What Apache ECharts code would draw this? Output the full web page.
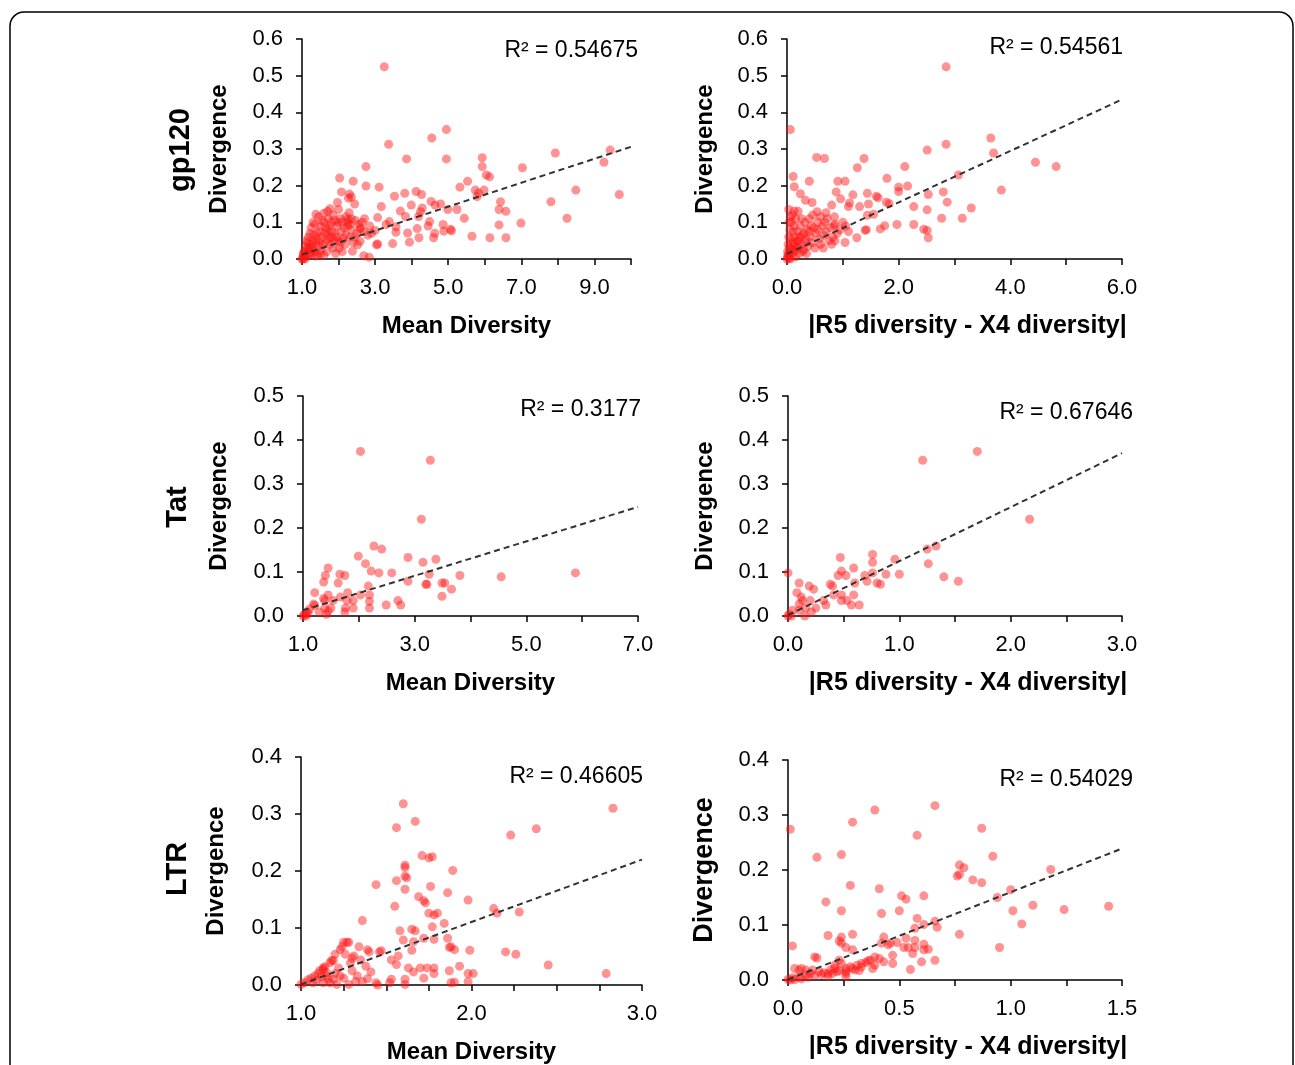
<!DOCTYPE html>
<html>
<head>
<meta charset="utf-8">
<script src="https://cdn.jsdelivr.net/npm/echarts@6/dist/echarts.min.js"></script>
<style>
  html, body { margin: 0; padding: 0; background: #fff; }
  #chart { width: 1295px; height: 1065px; }
</style>
</head>
<body>
<div id="chart"></div>
<script>
// Data: [x, y] points
const gp120Mean = [
  [3.25,0.524],[4.95,0.353],[4.55,0.330],[3.37,0.313],[3.86,0.273],[4.95,0.273],[5.93,0.276],[5.93,0.252],
  [7.93,0.289],[9.43,0.297],[9.26,0.264],[7.03,0.249],[2.75,0.252],[2.03,0.221],[2.40,0.212],[2.75,0.199],
  [3.11,0.196],[6.04,0.229],[6.13,0.224],[5.53,0.212],[5.32,0.196],[5.74,0.188],[5.98,0.188],[5.83,0.180],
  [5.79,0.170],[8.49,0.188],[9.68,0.176],[7.81,0.156],[8.25,0.111],[6.99,0.098],[6.58,0.058],[6.14,0.058],
  [5.65,0.062],[6.39,0.093],[6.43,0.156],[6.39,0.135],[6.58,0.130],[5.24,0.135],[4.99,0.135],[5.44,0.111],
  [5.06,0.081],[5.09,0.077],[4.86,0.094],[4.88,0.076],[4.63,0.070],[4.60,0.058],[4.45,0.090],[4.15,0.083],
  [4.20,0.058],[3.94,0.046],[3.89,0.071],[4.53,0.157],[4.79,0.150],[4.64,0.147],[4.29,0.139],[4.24,0.129],
  [4.19,0.116],[4.49,0.102],[4.12,0.184],[4.27,0.176],[3.81,0.179],[3.53,0.171],[3.99,0.147],[3.83,0.116],
  [3.69,0.131],[3.57,0.088],[3.57,0.073],[3.48,0.042],[3.17,0.143],[3.07,0.113],[3.39,0.102],[3.30,0.094],
  [3.07,0.041],[3.04,0.039],[3.00,0.078],[2.85,0.090],[2.84,0.005],[2.69,0.009],[2.71,0.110],[2.59,0.081],
  [2.30,0.177],[2.35,0.169],[2.44,0.150],[2.27,0.166],[2.08,0.183],[1.97,0.154],[1.77,0.137],[1.38,0.122],
  [2.29,0.126],[2.26,0.108],[2.46,0.105],[2.31,0.094],[2.52,0.039],[2.38,0.021],[2.59,0.048],
  [1.05,0.005],[1.10,0.010],[1.12,0.020],[1.15,0.030],[1.20,0.015],[1.25,0.040],[1.30,0.050],[1.18,0.060],
  [1.35,0.020],[1.40,0.070],[1.45,0.035],[1.50,0.090],[1.55,0.060],[1.60,0.100],[1.65,0.045],[1.70,0.080],
  [1.75,0.055],[1.80,0.100],[1.85,0.030],[1.90,0.070],[1.95,0.090],[2.00,0.050],[2.05,0.110],[2.10,0.020],
  [2.15,0.085],[2.20,0.065],[1.30,0.100],[1.45,0.115],[1.60,0.125],[1.70,0.130],[1.85,0.120],[2.00,0.135],
  [2.10,0.100],[1.02,0.000],[1.03,0.010],[1.08,0.000],[1.06,0.020],[1.10,0.035],[1.15,0.045],[1.22,0.070],
  [1.28,0.025],[1.32,0.065],[1.38,0.045],[1.42,0.010],[1.48,0.075],[1.52,0.025],[1.58,0.040],[1.62,0.070],
  [1.68,0.020],[1.72,0.110],[1.78,0.040],[1.82,0.075],[1.88,0.050],[1.92,0.015],[1.98,0.100],[2.02,0.030],
  [2.08,0.075],[2.12,0.055],[2.18,0.040],[2.25,0.090],[2.30,0.060],[2.35,0.080],[2.40,0.045],[2.45,0.060],
  [2.50,0.070],[2.55,0.095],[2.60,0.085],[2.65,0.100],[2.70,0.075],[2.80,0.065],[2.90,0.070],[1.25,0.085],
  [1.35,0.095],[1.55,0.105],[1.75,0.090],[1.95,0.060],[2.05,0.045],[1.40,0.055],[1.50,0.050],[1.65,0.085],
  [1.80,0.060],[1.90,0.105],[2.20,0.115],[2.25,0.100],[2.35,0.110],[1.12,0.050],[1.20,0.030],[1.30,0.035],
  [1.70,0.065],[1.50,0.015],[1.60,0.010],[1.00,0.000],[1.04,0.015],[1.14,0.008],[1.24,0.012],[1.36,0.008]
];
const gp120Diff = [
  [2.85,0.524],[0.06,0.353],[2.85,0.313],[2.51,0.297],[3.65,0.330],[3.70,0.289],[0.53,0.277],[0.67,0.274],
  [1.38,0.274],[1.26,0.249],[2.11,0.252],[4.45,0.264],[4.82,0.252],[0.11,0.225],[0.40,0.212],[0.91,0.212],
  [1.04,0.212],[1.79,0.220],[2.00,0.196],[2.16,0.199],[2.00,0.184],[3.07,0.229],[3.84,0.188],[2.80,0.183],
  [2.53,0.176],[2.87,0.155],[2.27,0.143],[2.51,0.134],[3.30,0.139],[3.14,0.111],[2.77,0.111],[2.27,0.094],
  [1.97,0.094],[2.45,0.081],[2.53,0.058],[2.51,0.078],[1.60,0.171],[1.63,0.167],[1.44,0.179],[1.18,0.175],
  [1.10,0.143],[0.88,0.183],[0.96,0.164],[1.12,0.153],[1.30,0.143],[1.46,0.150],[1.78,0.155],[1.83,0.151],
  [0.80,0.147],[0.70,0.126],[1.55,0.122],[1.44,0.119],[1.75,0.091],[1.67,0.082],[1.42,0.080],[1.40,0.078],
  [1.25,0.058],[1.04,0.045],[0.86,0.050],[0.84,0.091],[0.13,0.197],[0.24,0.178],[0.03,0.135],[0.13,0.131],
  [0.33,0.160],[0.45,0.154],[0.54,0.129],
  [0.00,0.000],[0.02,0.005],[0.03,0.015],[0.05,0.000],[0.06,0.030],[0.08,0.010],[0.10,0.045],[0.12,0.020],
  [0.14,0.060],[0.15,0.005],[0.17,0.035],[0.19,0.075],[0.20,0.050],[0.22,0.015],[0.24,0.090],[0.25,0.040],
  [0.27,0.065],[0.30,0.025],[0.32,0.100],[0.34,0.055],[0.36,0.080],[0.38,0.035],[0.40,0.110],[0.42,0.060],
  [0.45,0.045],[0.48,0.085],[0.50,0.030],[0.52,0.070],[0.55,0.100],[0.58,0.055],[0.60,0.040],[0.63,0.090],
  [0.66,0.065],[0.70,0.075],[0.72,0.110],[0.75,0.050],[0.78,0.085],[0.82,0.060],[0.86,0.095],[0.90,0.070],
  [0.95,0.080],[1.00,0.100],[1.05,0.090],[1.10,0.075],[0.05,0.080],[0.08,0.100],[0.10,0.120],[0.13,0.090],
  [0.03,0.060],[0.02,0.040],[0.07,0.055],[0.11,0.075],[0.16,0.110],[0.20,0.130],[0.26,0.110],[0.28,0.020],
  [0.35,0.015],[0.15,0.025],[0.09,0.025],[0.18,0.050],[0.23,0.060],[0.30,0.070],[0.43,0.090],[0.46,0.120],
  [0.60,0.115],[0.68,0.100],[0.85,0.115],[0.04,0.100],[0.06,0.115],[0.01,0.020],[0.04,0.030],[0.12,0.040],
  [0.21,0.030],[0.33,0.045],[0.40,0.075],[0.55,0.080],[0.65,0.030],[0.80,0.040],[0.01,0.008],[0.04,0.002]
];
const tatMean = [
  [2.03,0.374],[3.28,0.354],[3.12,0.220],[2.27,0.159],[2.41,0.152],[1.99,0.136],[2.88,0.133],[3.38,0.129],
  [2.12,0.119],[3.15,0.122],[1.45,0.109],[2.22,0.102],[2.36,0.098],[2.59,0.098],[3.26,0.095],[3.81,0.092],
  [4.55,0.089],[5.88,0.098],[1.66,0.095],[1.75,0.092],[1.40,0.092],[1.37,0.077],[1.63,0.075],[2.88,0.079],
  [3.20,0.072],[3.22,0.072],[3.49,0.075],[3.54,0.075],[3.66,0.061],[3.49,0.045],[2.17,0.068],[2.19,0.048],
  [2.03,0.048],[1.80,0.053],[1.79,0.035],[1.90,0.035],[1.90,0.018],[2.19,0.033],[2.19,0.018],[2.49,0.025],
  [2.70,0.035],[2.75,0.025],[1.76,0.018],[1.75,0.009],[1.21,0.053],[1.45,0.048],[1.37,0.040],[1.39,0.035],
  [1.54,0.035],[1.67,0.043],[1.39,0.018],[1.45,0.011],[1.42,0.004],[1.50,0.018],[1.19,0.027],[1.29,0.009],
  [1.12,0.016],[1.07,0.009],[1.03,0.004],[1.00,0.000],[1.05,0.000],[1.09,0.005],[1.21,0.024]
];
const tatDiff = [
  [1.70,0.374],[1.21,0.354],[2.17,0.220],[1.33,0.159],[1.25,0.152],[1.26,0.119],[1.40,0.089],[1.53,0.079],
  [0.47,0.133],[0.76,0.140],[0.76,0.122],[0.96,0.129],[0.59,0.109],[0.48,0.102],[0.45,0.092],[0.52,0.092],
  [0.76,0.098],[0.88,0.095],[1.00,0.095],[0.69,0.092],[0.71,0.079],[0.60,0.075],[0.80,0.075],[0.83,0.072],
  [0.38,0.072],[0.40,0.068],[0.59,0.048],[0.48,0.048],[0.48,0.035],[0.53,0.035],[0.57,0.025],[0.64,0.025],
  [0.41,0.048],[0.32,0.035],[0.34,0.025],[0.25,0.018],[0.00,0.098],[0.10,0.075],[0.19,0.068],[0.23,0.061],
  [0.08,0.053],[0.12,0.043],[0.13,0.035],[0.20,0.035],[0.10,0.027],[0.10,0.013],[0.16,0.018],[0.21,0.009],
  [0.15,0.000],[0.04,0.013],[0.01,0.004],[0.00,0.000],[0.03,0.000]
];
const ltrMean = [
  [1.60,0.318],[2.83,0.310],[1.67,0.287],[1.56,0.276],[2.38,0.274],[2.23,0.263],[1.71,0.227],[1.75,0.223],
  [1.77,0.225],[1.61,0.210],[1.61,0.206],[1.89,0.201],[1.61,0.191],[1.62,0.188],[1.44,0.176],[1.56,0.183],
  [1.76,0.173],[1.61,0.168],[1.86,0.162],[1.69,0.155],[1.72,0.148],[1.73,0.144],[1.98,0.149],[1.55,0.138],
  [2.13,0.134],[2.15,0.126],[2.28,0.128],[1.75,0.126],[1.78,0.123],[1.80,0.126],[1.84,0.108],[1.77,0.102],
  [1.36,0.113],[1.58,0.095],[1.65,0.098],[1.67,0.095],[1.60,0.079],[1.66,0.076],[1.72,0.082],[1.78,0.080],
  [1.86,0.082],[1.87,0.066],[1.90,0.062],[1.88,0.067],[1.99,0.061],[2.20,0.058],[2.26,0.054],[2.45,0.035],
  [2.79,0.020],[1.65,0.061],[1.57,0.051],[1.53,0.044],[1.56,0.036],[1.63,0.030],[1.66,0.023],[1.70,0.030],
  [1.74,0.030],[1.78,0.030],[1.78,0.020],[1.72,0.012],[1.87,0.025],[1.93,0.033],[1.88,0.004],[1.90,0.005],
  [1.98,0.020],[2.01,0.020],[1.98,0.006],[1.61,0.010],[1.61,0.001],[1.53,0.010],[1.52,0.004],[1.44,0.004],
  [1.45,0.000],[1.39,0.011],[1.36,0.006],[1.32,0.006],[1.28,0.001],[1.33,0.016],[1.38,0.033],[1.41,0.023],
  [1.40,0.058],[1.39,0.062],[1.46,0.058],[1.47,0.060],[1.34,0.067],[1.35,0.044],[1.30,0.047],[1.29,0.039],
  [1.30,0.025],[1.31,0.051],[1.26,0.054],[1.28,0.075],[1.27,0.075],[1.24,0.067],[1.23,0.062],[1.25,0.075],
  [1.20,0.054],[1.19,0.043],[1.18,0.043],[1.17,0.039],[1.14,0.032],[1.13,0.030],[1.13,0.027],[1.11,0.025],
  [1.10,0.020],[1.08,0.016],[1.06,0.012],[1.04,0.009],[1.02,0.004],[1.00,0.001],[1.23,0.016],[1.25,0.012],
  [1.19,0.010],[1.17,0.004],[1.16,0.010],[1.13,0.004],[1.21,0.001],[1.15,0.016],[1.12,0.014],[1.09,0.008],
  [1.07,0.004],[1.15,0.022],[1.20,0.020],[1.22,0.030]
];
const ltrDiff = [
  [0.66,0.317],[0.39,0.309],[0.29,0.287],[0.01,0.274],[0.87,0.276],[0.58,0.263],[0.92,0.225],[0.13,0.223],
  [0.24,0.228],[0.77,0.209],[0.79,0.204],[0.76,0.189],[0.77,0.192],[0.83,0.182],[0.87,0.177],[1.18,0.201],
  [0.28,0.172],[0.41,0.166],[0.51,0.153],[0.53,0.147],[0.61,0.153],[0.94,0.150],[1.00,0.164],[0.17,0.142],
  [0.24,0.126],[0.42,0.121],[0.50,0.126],[0.58,0.112],[1.10,0.136],[1.24,0.128],[1.44,0.134],[1.01,0.126],
  [1.05,0.102],[0.66,0.107],[0.67,0.096],[0.61,0.101],[0.57,0.094],[0.77,0.083],[0.95,0.059],[0.18,0.081],
  [0.29,0.083],[0.24,0.078],[0.23,0.071],[0.24,0.067],[0.26,0.059],[0.29,0.055],[0.43,0.078],[0.42,0.067],
  [0.46,0.067],[0.49,0.068],[0.45,0.064],[0.53,0.076],[0.57,0.072],[0.61,0.065],[0.63,0.056],[0.61,0.055],
  [0.57,0.059],[0.52,0.059],[0.54,0.059],[0.56,0.048],[0.66,0.036],[0.60,0.033],[0.55,0.019],[0.47,0.045],
  [0.47,0.030],[0.43,0.033],[0.39,0.042],[0.37,0.036],[0.38,0.021],[0.33,0.024],[0.33,0.030],[0.29,0.021],
  [0.30,0.018],[0.26,0.016],[0.24,0.030],[0.23,0.036],[0.21,0.027],[0.19,0.018],[0.26,0.006],[0.21,0.021],
  [0.18,0.012],[0.12,0.042],[0.13,0.040],[0.02,0.062],[0.03,0.021],[0.05,0.018],[0.06,0.021],[0.08,0.018],
  [0.11,0.018],[0.14,0.015],[0.16,0.013],[0.10,0.012],[0.08,0.009],[0.05,0.006],[0.02,0.004],[0.00,0.001],
  [0.01,0.000],[0.03,0.001],[0.06,0.002],[0.09,0.005],[0.12,0.008],[0.15,0.010],[0.18,0.007],[0.20,0.012],
  [0.22,0.015],[0.23,0.017],[0.26,0.021],[0.28,0.024],[0.31,0.027],[0.35,0.032],[0.36,0.035],[0.26,0.012],
  [0.32,0.017],[0.39,0.027],[0.41,0.039]
];

// Trend lines: [start, end]
const gp120MeanTrend = [[1, 0.012], [10, 0.306]];
const gp120DiffTrend = [[0, 0.014], [6, 0.435]];
const tatMeanTrend = [[1, 0.013], [7, 0.248]];
const tatDiffTrend = [[0, 0.002], [3, 0.370]];
const ltrMeanTrend = [[1, 0.001], [3, 0.220]];
const ltrDiffTrend = [[0, 0.001], [1.5, 0.239]];

const rSquared = ['R\u00b2 = 0.54675', 'R\u00b2 = 0.54561', 'R\u00b2 = 0.3177', 'R\u00b2 = 0.67646', 'R\u00b2 = 0.46605', 'R\u00b2 = 0.54029'];
const rowNames = ['gp120', 'Tat', 'LTR'];
const xTitles = ['Mean Diversity', '|R5 diversity - X4 diversity|'];

// Layout of the six panels
const panels = [
  { pts: gp120Mean, trend: gp120MeanTrend, left: 302, top: 39, w: 329, h: 220, xMin: 1, xMax: 10, xStep: 1, xLab: 2, yMax: 0.6, r2: [638, 51], yGap: 71 },
  { pts: gp120Diff, trend: gp120DiffTrend, left: 787, top: 39, w: 335, h: 220, xMin: 0, xMax: 6, xStep: 1, xLab: 2, yMax: 0.6, r2: [1123, 48], yGap: 70 },
  { pts: tatMean, trend: tatMeanTrend, left: 303, top: 396, w: 335, h: 220, xMin: 1, xMax: 7, xStep: 1, xLab: 2, yMax: 0.5, r2: [641, 410], yGap: 72 },
  { pts: tatDiff, trend: tatDiffTrend, left: 788, top: 396, w: 334, h: 220, xMin: 0, xMax: 3, xStep: 0.5, xLab: 1, yMax: 0.5, r2: [1133, 413], yGap: 71 },
  { pts: ltrMean, trend: ltrMeanTrend, left: 301, top: 757, w: 341, h: 229, xMin: 1, xMax: 3, xStep: 0.25, xLab: 1, yMax: 0.4, r2: [643, 777], yGap: 73 },
  { pts: ltrDiff, trend: ltrDiffTrend, left: 788, top: 760, w: 334, h: 220, xMin: 0, xMax: 1.5, xStep: 0.25, xLab: 0.5, yMax: 0.4, r2: [1133, 780], yGap: 70 }
];

const FONT = 'Liberation Sans, Arial, sans-serif';
const chart = echarts.init(document.getElementById('chart'));

const grid = [], xAxis = [], yAxis = [], series = [];
const axisLine = { lineStyle: { color: '#000', width: 1.5 } };
const axisTick = { length: 6, lineStyle: { color: '#000', width: 1.5 } };

panels.forEach((p, i) => {
  const rightCol = i % 2 === 1;
  grid.push({ left: p.left, top: p.top, width: p.w, height: p.h });
  xAxis.push({
    gridIndex: i, type: 'value', min: p.xMin, max: p.xMax, interval: p.xStep,
    axisLine, axisTick, splitLine: { show: false },
    axisLabel: {
      margin: 18, fontSize: 22, color: '#000', fontFamily: FONT,
      formatter: v => {
        const k = (v - p.xMin) / p.xLab;
        return Math.abs(k - Math.round(k)) < 1e-6 ? v.toFixed(1) : '';
      }
    },
    name: xTitles[i % 2], nameLocation: 'middle', nameGap: 55,
    nameTextStyle: {
      fontSize: rightCol ? 25 : 24, fontWeight: 'bold', color: '#000', fontFamily: FONT,
      padding: rightCol ? [0, 0, 0, 26] : 0
    }
  });
  yAxis.push({
    gridIndex: i, type: 'value', min: 0, max: p.yMax, interval: 0.1,
    axisLine, axisTick, splitLine: { show: false },
    axisLabel: { margin: 19, fontSize: 22, color: '#000', fontFamily: FONT, formatter: v => v.toFixed(1) },
    name: 'Divergence', nameLocation: 'middle', nameGap: p.yGap,
    nameTextStyle: { fontSize: i === 5 ? 27 : 24, fontWeight: 'bold', color: '#000', fontFamily: FONT }
  });
  series.push({
    type: 'scatter', xAxisIndex: i, yAxisIndex: i, data: p.pts, symbolSize: 9,
    itemStyle: { color: 'rgba(255, 20, 20, 0.58)' }, silent: true
  });
  series.push({
    type: 'line', xAxisIndex: i, yAxisIndex: i, data: p.trend, symbol: 'none', z: 3,
    lineStyle: { color: '#333', width: 2, type: [6, 4] }, silent: true
  });
});

const graphic = [
  { type: 'rect', shape: { x: 10, y: 12, width: 1283, height: 1120, r: 14 },
    style: { fill: 'none', stroke: '#000', lineWidth: 1.5 }, silent: true }
];
panels.forEach((p, i) => {
  graphic.push({
    type: 'text', x: p.r2[0], y: p.r2[1],
    style: { text: rSquared[i], font: '23px ' + FONT, fill: '#000', textAlign: 'right', textVerticalAlign: 'middle' }
  });
});
const rowCenters = [[181, 150], [178, 507], [178, 869]];
rowNames.forEach((n, i) => {
  graphic.push({
    type: 'text', x: rowCenters[i][0], y: rowCenters[i][1], rotation: Math.PI / 2,
    style: { text: n, font: 'bold 29px ' + FONT, fill: '#000', textAlign: 'center', textVerticalAlign: 'middle' }
  });
});

chart.setOption({
  backgroundColor: '#fff',
  animation: false,
  grid, xAxis, yAxis, series, graphic
});
</script>
</body>
</html>
